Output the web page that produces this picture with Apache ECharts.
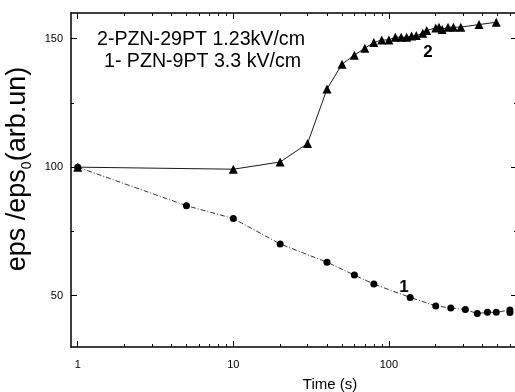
<!DOCTYPE html>
<html><head><meta charset="utf-8">
<script src="https://cdn.jsdelivr.net/npm/echarts@6/dist/echarts.min.js"></script>
<style>html,body{margin:0;padding:0;background:#fff}#c{width:515px;height:392px}</style>
</head><body><div id="c"></div>
<script>
// Series 1 (circles, dash-dot): PZN-9PT 3.3 kV/cm
const timeS1 = [1, 5, 10, 20, 40, 60, 80, 137, 200, 250, 310, 370, 430, 490, 600, 600];
const epsS1  = [100, 85.0, 80.0, 70.1, 63.0, 58.0, 54.5, 49.3, 46.0, 45.2, 44.6, 43.0, 43.5, 43.5, 44.4, 43.4];
// Series 2 (triangles, solid): PZN-29PT 1.23 kV/cm
const timeS2 = [1, 10, 20, 30, 40, 50, 60, 70, 80, 90, 100, 110, 120, 130, 140, 150, 165, 175, 200, 210, 220, 240, 260, 290, 380, 490];
const epsS2  = [100, 99.2, 102, 109.2, 130.4, 140.1, 143.6, 146.3, 148.5, 149.5, 149.5, 150.6, 150.6, 150.6, 151, 151.2, 152.1, 153.2, 154.2, 154.5, 153.6, 154.5, 154.5, 154.5, 155.5, 156.4];
// Axis ticks / labels
const xMajor = [1, 10, 100];
const xMinor = [2,3,4,5,6,7,8,9,20,30,40,50,60,70,80,90,200,300,400,500,600];
const yMajor = [50, 100, 150];
const yMinor = [75, 125];
const X_MIN = 0.905, X_MAX = 666, Y_MIN = 30, Y_MAX = 160;

const FONT = 'Liberation Sans, Arial, Helvetica, sans-serif';
const pair = (xs, ys) => xs.map((x, i) => [x, ys[i]]);

function xAx(pos, ticks, len, withLine, withLabels) {
  const a = {
    type: 'log', logBase: 10, min: X_MIN, max: X_MAX, position: pos,
    axisLine: { show: withLine, onZero: false, lineStyle: { color: '#000', width: 1.5 } },
    axisTick: { show: true, inside: true, length: len, customValues: ticks, lineStyle: { color: '#000', width: 1 } },
    axisLabel: { show: withLabels, customValues: xMajor, formatter: v => String(Math.round(v)),
      color: '#000', fontSize: 11, fontFamily: FONT, margin: 12 },
    splitLine: { show: false }, minorTick: { show: false }
  };
  if (withLabels) {
    a.name = 'Time (s)';
    a.nameLocation = 'middle';
    a.nameGap = 30;
    a.nameTextStyle = { color: '#000', fontSize: 15, fontFamily: FONT, padding: [0, 0, 0, 72] };
  }
  return a;
}
function yAx(pos, ticks, len, withLine, withLabels) {
  const a = {
    type: 'value', min: Y_MIN, max: Y_MAX, position: pos,
    axisLine: { show: withLine, onZero: false, lineStyle: { color: '#000', width: 1.5 } },
    axisTick: { show: true, inside: true, length: len, customValues: ticks, lineStyle: { color: '#000', width: 1 } },
    axisLabel: { show: withLabels, customValues: yMajor, color: '#000', fontSize: 11, fontFamily: FONT, margin: 8 },
    splitLine: { show: false }
  };
  if (withLabels) {
    a.name = '{a|eps /eps}{s|0}{a|(arb.un)}';
    a.nameLocation = 'middle';
    a.nameGap = 26;
    a.nameRotate = 90;
    a.nameTextStyle = {
      color: '#000', fontFamily: FONT, padding: [0, 0, 0, 22],
      rich: {
        a: { fontSize: 27, lineHeight: 29, verticalAlign: 'top', fontFamily: FONT, color: '#000' },
        s: { fontSize: 14, lineHeight: 14, padding: [16, 0, 0, 0], verticalAlign: 'top', fontFamily: FONT, color: '#000' }
      }
    };
  }
  return a;
}

const chart = echarts.init(document.getElementById('c'), null, { renderer: 'canvas' });
chart.setOption({
  animation: false,
  backgroundColor: '#fff',
  grid: { left: 71, top: 13, right: -2, bottom: 45, containLabel: false, outerBoundsMode: 'none' },
  xAxis: [
    xAx('bottom', xMajor, 6, true, true),
    xAx('bottom', xMinor, 3, false, false),
    xAx('top', xMajor, 6, true, false),
    xAx('top', xMinor, 3, false, false)
  ],
  yAxis: [
    yAx('left', yMajor, 6, true, true),
    yAx('left', yMinor, 3, false, false),
    yAx('right', yMajor, 6, true, false),
    yAx('right', yMinor, 3, false, false)
  ],
  series: [
    {
      type: 'line', name: '1', xAxisIndex: 0, yAxisIndex: 0,
      data: pair(timeS1, epsS1),
      symbol: 'circle', symbolSize: 7, showAllSymbol: true,
      itemStyle: { color: '#000' },
      lineStyle: { color: '#000', width: 0.8, type: [5, 2, 1, 2] }
    },
    {
      type: 'line', name: '2', xAxisIndex: 0, yAxisIndex: 0,
      data: pair(timeS2, epsS2),
      symbol: 'triangle', symbolSize: 9, showAllSymbol: true,
      itemStyle: { color: '#000' },
      lineStyle: { color: '#000', width: 0.9, type: 'solid' }
    }
  ],
  graphic: [
    { type: 'text', x: 97, y: 40, style: { text: '2-PZN-29PT 1.23kV/cm', fontSize: 19.6, fontFamily: FONT, fill: '#000', align: 'left', verticalAlign: 'middle' } },
    { type: 'text', x: 104, y: 62, style: { text: '1- PZN-9PT 3.3 kV/cm', fontSize: 19.6, fontFamily: FONT, fill: '#000', align: 'left', verticalAlign: 'middle' } },
    { type: 'text', x: 428, y: 52, style: { text: '2', fontSize: 17, fontWeight: 'bold', fontFamily: FONT, fill: '#000', align: 'center', verticalAlign: 'middle' } },
    { type: 'text', x: 404, y: 287, style: { text: '1', fontSize: 17, fontWeight: 'bold', fontFamily: FONT, fill: '#000', align: 'center', verticalAlign: 'middle' } }
  ]
});
</script></body></html>
